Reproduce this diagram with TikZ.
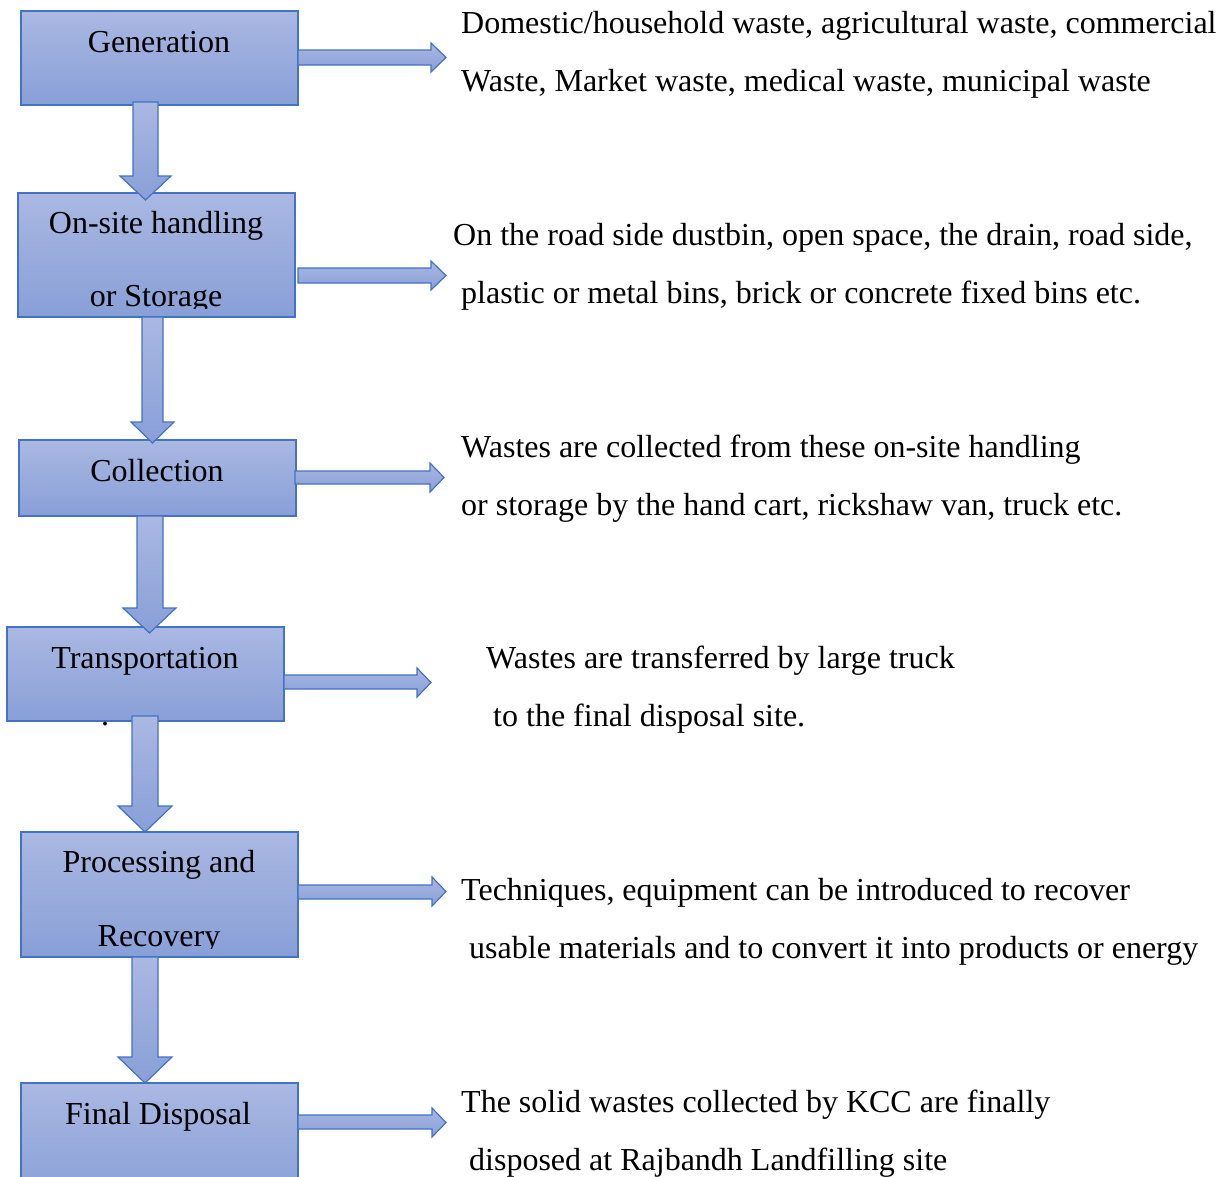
\documentclass[tikz,border=0pt]{standalone}
\usepackage{fontspec}
\setmainfont{Liberation Serif}
\definecolor{bordc}{RGB}{68,114,196}
\definecolor{topc}{RGB}{170,184,226}
\definecolor{botc}{RGB}{136,159,215}
\newcommand{\blockdown}[7]{%
  \path[arrowshape] (#1,#5) -- (#2,#5) -- (#2,#6) -- (#4,#6) -- ({(#3+#4)/2},#7) -- (#3,#6) -- (#1,#6) -- cycle;}
\newcommand{\blockright}[7]{%
  \path[arrowshape] (#1,#2) -- (#6,#2) -- (#6,#4) -- (#7,{(#4+#5)/2}) -- (#6,#5) -- (#6,#3) -- (#1,#3) -- cycle;}
\begin{document}
\begin{tikzpicture}[x=1pt,y=-1pt,
  every node/.style={font=\fontsize{32}{38}\selectfont, inner sep=0pt, text=black},
  box/.style={draw=bordc, line width=1.2pt, top color=topc, bottom color=botc, rectangle, minimum width=277pt},
  arrowshape/.style={draw=bordc, line width=1.2pt, top color=topc, bottom color=botc, line join=miter},
  lbl/.style={anchor=base},
  desc/.style={anchor=base west}]
\clip (0,0) rectangle (1222,1176);
\fill[white] (0,0) rectangle (1222,1176);

% boxes
\node[box, minimum height=94pt]  (gen)    at (159.5,58)    {};
\node[box, minimum height=124pt] (onsite) at (156.5,255)   {};
\node[box, minimum height=76pt]  (coll)   at (157.5,478)   {};
\node[box, minimum height=94pt]  (trans)  at (145.5,674)   {};
\node[box, minimum height=125pt] (proc)   at (159.5,894.5) {};
\node[box, minimum height=117pt] (final)  at (159.5,1141.5){};

% box labels
\node[lbl] (genT)    at (159,52)  {Generation};
\node[lbl] (onsiteA) at (156,233) {On-site handling};
\begin{scope}
  \clip (18,193) rectangle (295,308);
  \node[lbl] (onsiteB) at (156,306) {or Storage};
\end{scope}
\node[lbl] (collT)   at (157,481) {Collection};
\node[lbl] (transT)  at (145,668) {Transportation};
\node[lbl] (procA)   at (159,872) {Processing and};
\begin{scope}
  \clip (21,832) rectangle (298,948);
  \node[lbl] (procB)   at (159,946) {Recovery};
\end{scope}
\node[lbl] (finalT)  at (158,1124){Final Disposal};
\node[lbl] (dot)     at (105,725) {.};

% vertical block arrows
\blockdown{133}{158}{120}{171}{102}{176}{200}
\blockdown{142}{163}{131}{174}{317}{422}{443}
\blockdown{137}{163}{123}{176}{516}{608}{633}
\blockdown{132}{158}{118}{172}{716}{806}{832}
\blockdown{132}{158}{118}{172}{957}{1057}{1083}

% horizontal block arrows
\blockright{298}{50}{65}{43}{72}{431}{446}
\blockright{298}{268}{283}{261}{290}{431}{446}
\blockright{295}{471}{484}{463}{492}{430}{444}
\blockright{284}{675}{689}{668}{697}{417}{431}
\blockright{298}{885}{899}{877}{906}{432}{446}
\blockright{298}{1115}{1129}{1108}{1137}{432}{446}

% descriptions
\node[desc] (d1a) at (461,33)   {Domestic/household waste, agricultural waste, commercial};
\node[desc] (d1b) at (461,91)   {Waste, Market waste, medical waste, municipal waste};
\node[desc] (d2a) at (453,245)  {On the road side dustbin, open space, the drain, road side,};
\node[desc] (d2b) at (461,303)  {plastic or metal bins, brick or concrete fixed bins etc.};
\node[desc] (d3a) at (461,457)  {Wastes are collected from these on-site handling};
\node[desc] (d3b) at (461,515)  {or storage by the hand cart, rickshaw van, truck etc.};
\node[desc] (d4a) at (486,668)  {Wastes are transferred by large truck};
\node[desc] (d4b) at (493,726)  {to the final disposal site.};
\node[desc] (d5a) at (461,900)  {Techniques, equipment can be introduced to recover};
\node[desc] (d5b) at (469,958)  {usable materials and to convert it into products or energy};
\node[desc] (d6a) at (461,1112) {The solid wastes collected by KCC are finally};
\node[desc] (d6b) at (469,1170) {disposed at Rajbandh Landfilling site};
\end{tikzpicture}
\end{document}
